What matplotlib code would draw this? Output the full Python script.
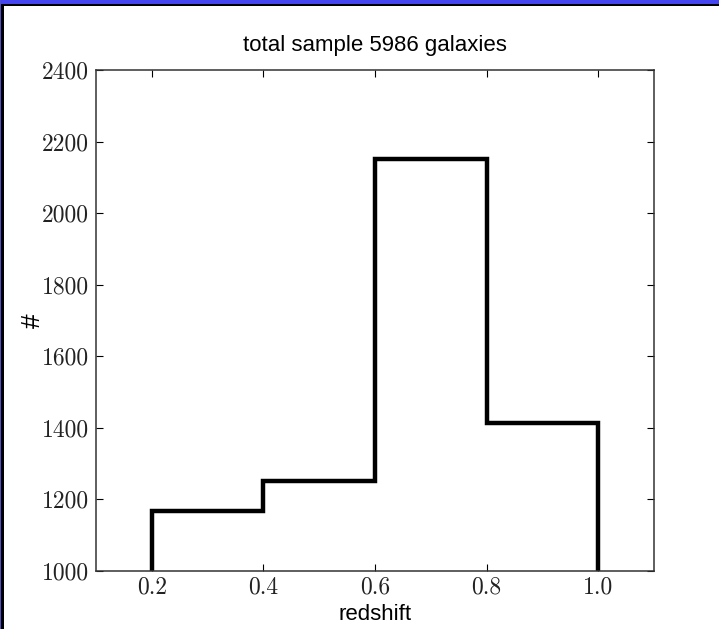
#!/usr/bin/env python3
"""Redshift histogram of the total galaxy sample."""

import matplotlib
matplotlib.use('Agg')
import matplotlib.pyplot as plt
from matplotlib.patches import Rectangle

# bin edges in redshift and counts per bin
edges = [0.2, 0.4, 0.6, 0.8, 1.0]
counts = [1168, 1252, 2152, 1413]
xticks = [0.2, 0.4, 0.6, 0.8, 1.0]
yticks = [1000, 1200, 1400, 1600, 1800, 2000, 2200, 2400]

fig = plt.figure(figsize=(7.19, 6.29), dpi=100)
ax = fig.add_axes([0.1335, 0.0922, 0.776, 0.7965])

ax.stairs(counts, edges, baseline=0, color='black', linewidth=3.2)

ax.set_xlim(0.1, 1.1)
ax.set_ylim(1000, 2400)
ax.set_xticks(xticks)
ax.set_xticklabels([f'{t:.1f}' for t in xticks])
ax.set_yticks(yticks)
ax.set_yticklabels([str(t) for t in yticks])

for lbl in ax.get_xticklabels() + ax.get_yticklabels():
    lbl.set_fontfamily('cmr10')
    lbl.set_fontsize(17)
    lbl.set_color('#222222')

ax.tick_params(direction='in', top=True, right=True, length=5, width=0.8)
ax.tick_params(axis='x', pad=4)
ax.tick_params(axis='y', pad=5)
for s in ax.spines.values():
    s.set_linewidth(1.1)
    s.set_color('#333333')

sans = 'Liberation Sans'
ax.set_title('total sample 5986 galaxies', fontfamily=sans, fontsize=16, pad=14)
ax.set_xlabel('redshift', fontfamily=sans, fontsize=16, labelpad=4)
ax.set_ylabel('#', fontfamily=sans, fontsize=19, labelpad=-2)

# slide frame around the screenshot
W, H = 719, 629
fig.add_artist(Rectangle((0, 1 - 4 / H), 1, 4 / H, transform=fig.transFigure,
                         facecolor='#4646f0', edgecolor='none'))
fig.add_artist(Rectangle((0, 1 - 6 / H), 1, 2 / H, transform=fig.transFigure,
                         facecolor='black', edgecolor='none'))
fig.add_artist(Rectangle((0, 0), 1 / W, 1, transform=fig.transFigure,
                         facecolor='#5050c8', edgecolor='none'))
fig.add_artist(Rectangle((1 / W, 0), 3 / W, 1 - 4 / H, transform=fig.transFigure,
                         facecolor='black', edgecolor='none'))

fig.savefig('out.png', dpi=100)
